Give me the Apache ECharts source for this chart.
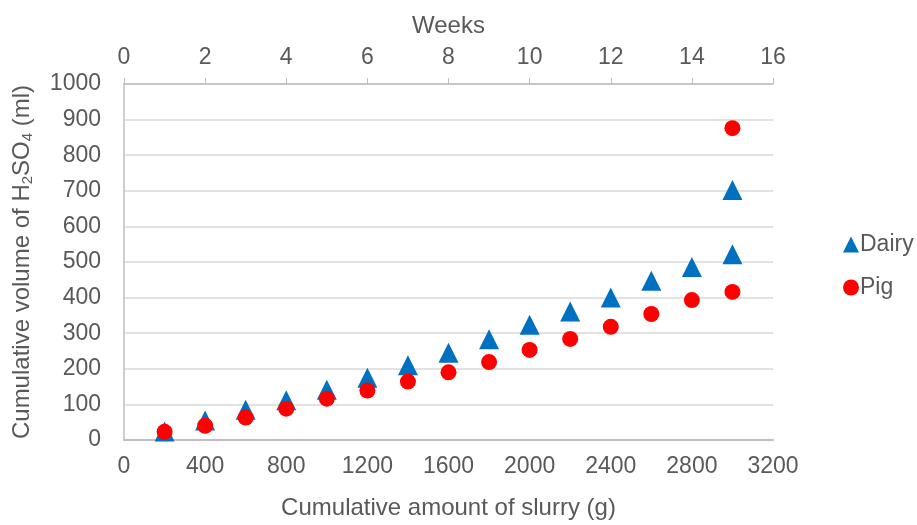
<!DOCTYPE html>
<html><head><meta charset="utf-8">
<script src="https://cdn.jsdelivr.net/npm/echarts@6/dist/echarts.min.js"></script>
<style>html,body{margin:0;padding:0;background:#fff}#c{width:917px;height:525px}</style>
</head><body><div id="c"></div>
<script>
const slurry = [200,400,600,800,1000,1200,1400,1600,1800,2000,2200,2400,2600,2800,3000,3000];
const dairy  = [24,55,85,112,141,175,210,245,283,324,361,400,447,486,522,702];
const pig    = [23,40,63,88,116,139,164,190,219,253,284,318,354,393,416,876];
const xTicks = {min:0,max:3200,interval:400};
const weekTicks = {min:0,max:16,interval:2};
const yTicks = {min:0,max:1000,interval:100};

const txt = '#595959', font = 'Arial, "Liberation Sans", sans-serif', fs = 23, ts = 24;
const plain = v => String(v);
const chart = echarts.init(document.getElementById('c'));
chart.setOption({
  animation:false,
  textStyle:{fontFamily:font},
  grid:{left:124,top:84,right:144,bottom:79},
  legend:{orient:'vertical',left:838,top:228,itemGap:20,itemWidth:16,itemHeight:16,
    textStyle:{color:txt,fontSize:fs,fontFamily:font,padding:[0,0,0,-4]},
    data:[{name:'Dairy',icon:'triangle'},{name:'Pig',icon:'circle'}]},
  xAxis:[
    {type:'value',position:'bottom',min:xTicks.min,max:xTicks.max,interval:xTicks.interval,
     name:'Cumulative amount of slurry (g)',nameLocation:'middle',nameGap:56,
     nameTextStyle:{color:txt,fontSize:ts,fontFamily:font},
     axisLine:{show:true,lineStyle:{color:'#bfbfbf',width:2}},axisTick:{show:false},
     axisLabel:{color:txt,fontSize:fs,margin:15,fontFamily:font,formatter:plain},splitLine:{show:false}},
    {type:'value',position:'top',min:weekTicks.min,max:weekTicks.max,interval:weekTicks.interval,
     name:'Weeks',nameLocation:'middle',nameGap:46,
     nameTextStyle:{color:txt,fontSize:ts,fontFamily:font},
     axisLine:{show:true,lineStyle:{color:'#bfbfbf',width:1.5}},
     axisTick:{show:true,inside:false,length:6,lineStyle:{color:'#bfbfbf'}},
     axisLabel:{color:txt,fontSize:fs,margin:15,fontFamily:font,formatter:plain},splitLine:{show:false}}
  ],
  yAxis:{type:'value',min:yTicks.min,max:yTicks.max,interval:yTicks.interval,
    name:'Cumulative volume of H{s|2}SO{s|4} (ml)',nameLocation:'middle',nameGap:89,nameRotate:90,
    nameTextStyle:{color:txt,fontSize:ts,fontFamily:font,
      rich:{s:{fontSize:15,color:txt,fontFamily:font,verticalAlign:'bottom',padding:[10,0,0,0]}}},
    axisLine:{show:true,lineStyle:{color:'#bfbfbf',width:1.5}},axisTick:{show:false},
    axisLabel:{color:txt,fontSize:fs,margin:23,fontFamily:font,formatter:plain},
    splitLine:{lineStyle:{color:'#d9d9d9',width:1.5}}},
  series:[
    {name:'Dairy',type:'scatter',xAxisIndex:0,symbol:'triangle',symbolSize:[20,20],
     itemStyle:{color:'#0070c0',opacity:1},data:slurry.map((x,i)=>[x,dairy[i]])},
    {name:'Pig',type:'scatter',xAxisIndex:0,symbol:'circle',symbolSize:16,
     itemStyle:{color:'#ff0000',opacity:1},data:slurry.map((x,i)=>[x,pig[i]])}
  ]
});
</script></body></html>
